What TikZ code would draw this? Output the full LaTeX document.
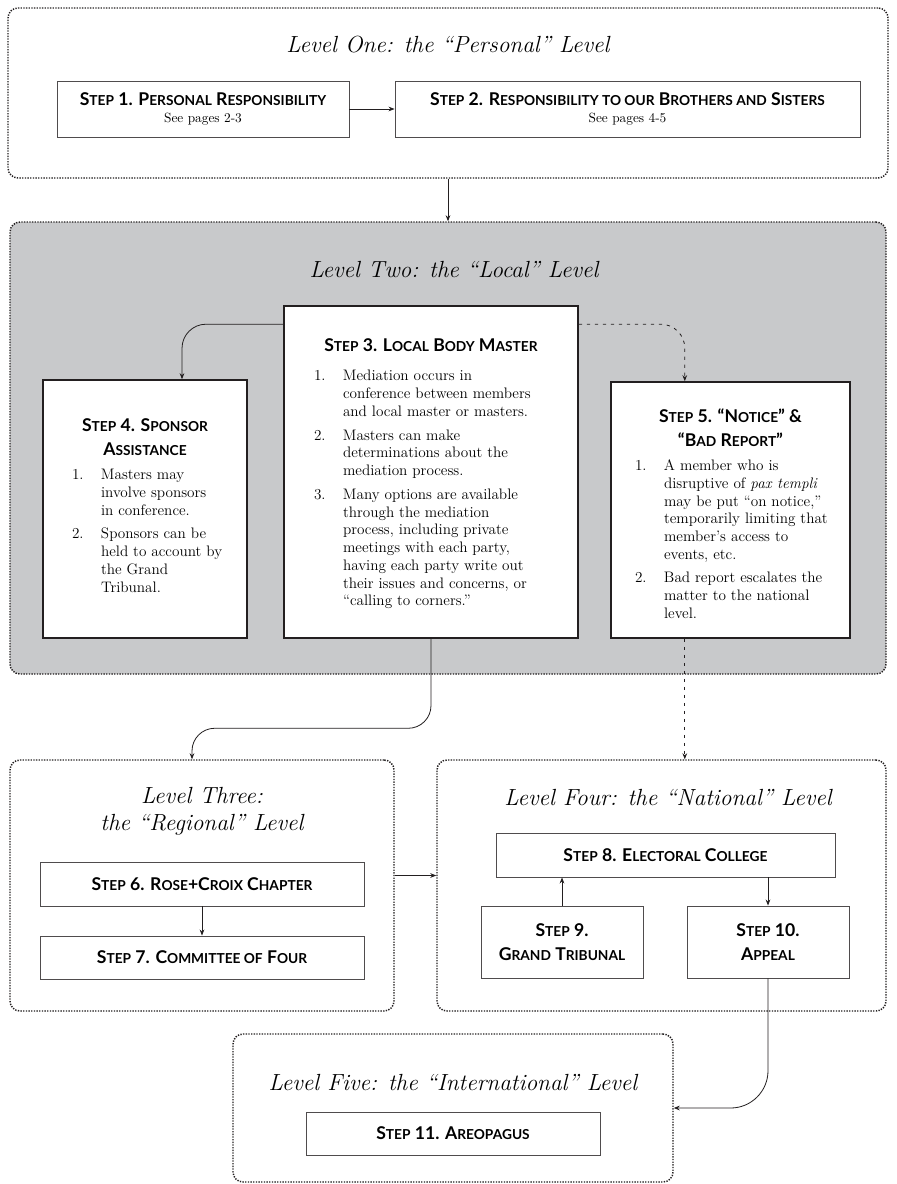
\documentclass[tikz,border=0pt]{standalone}
\usepackage{fontspec}
\usetikzlibrary{arrows.meta,calc}
\newfontfamily\stepfont{Lato}
\definecolor{levelgray}{HTML}{C8C9CB}
\definecolor{ink}{HTML}{231F20}
\newlength\px
\setlength\px{0.75pt}
\newcommand\sm[1]{{\fontsize{10.3pt}{12pt}\selectfont\MakeUppercase{#1}}}
\newcommand\hdfont{\stepfont\bfseries\fontsize{13.2pt}{17.6pt}\selectfont}
\newcommand\seefont{\rmfamily\mdseries\fontsize{10pt}{12pt}\selectfont}
\newcommand\bodyfont{\fontsize{11.4pt}{13.3pt}\selectfont}
\newcommand\hd[1]{{\centering\hdfont #1\par}\vspace{5pt}}
\newcommand\itm[3]{{\raggedright\bodyfont\leftskip=#1\px\noindent\llap{\makebox[29\px][l]{#2}}#3\par}\vspace{4.5pt}}
\newcommand\stepbody[4]{\begin{minipage}[t][#2\px][t]{#1\px}\vspace*{#3\px}#4\end{minipage}}
\tikzset{
	level/.style={draw=ink, line width=1.1pt, dash pattern=on 1pt off 1pt, rounded corners=7.5pt, inner sep=0pt},
	boxsize/.style 2 args={minimum width=#1*0.75pt, minimum height=#2*0.75pt},
	smallstep/.style={draw=ink!80, line width=0.7pt, fill=white, align=center, inner sep=0pt, font=\hdfont},
	bigstep/.style={draw=ink, line width=1.2pt, fill=white, inner sep=0pt},
	title/.style={font=\fontsize{17.5pt}{20.3pt}\selectfont\itshape, align=center},
	link/.style={draw=ink, line width=0.6pt, -{Stealth[length=4.5pt,width=3.5pt]}},
	dashlink/.style={dash pattern=on 2.5pt off 3.5pt},
}
\begin{document}
\begin{tikzpicture}[x=0.75pt, y=-0.75pt]
	\path[use as bounding box, fill=white] (0,0) rectangle (896,1184);

	\node[level, boxsize={880}{170}] (lv1) at (448,93) {};
	\node[level, fill=levelgray, boxsize={876}{452}] (lv2) at (448,448) {};
	\node[level, boxsize={384}{251}] (lv3) at (202,885.5) {};
	\node[level, boxsize={449}{251}] (lv4) at (661.5,885.5) {};
	\node[level, boxsize={440}{148}] (lv5) at (453,1108) {};

	\node[title] (t1) at (448,45) {Level One: the “Personal” Level};
	\node[title] (t2) at (454,270) {Level Two: the “Local” Level};
	\node[title] (t3) at (202,811) {Level Three:\\the “Regional” Level};
	\node[title] (t4) at (668,798) {Level Four: the “National” Level};
	\node[title] (t5) at (453,1083) {Level Five: the “International” Level};

	\node[smallstep, boxsize={292}{56}] (s1) at (203,109) {S\sm{tep} 1. P\sm{ersonal} R\sm{esponsibility}\\[-4.5pt]{\seefont See pages 2-3}};
	\node[smallstep, boxsize={465}{56}] (s2) at (627.5,109) {S\sm{tep} 2. R\sm{esponsibility to our} B\sm{rothers and} S\sm{isters}\\[-4.5pt]{\seefont See pages 4-5}};

	\node[bigstep] (s3) at (431,472) {\stepbody{294}{332}{33}{%
		\hd{S\sm{tep} 3. L\sm{ocal} B\sm{ody} M\sm{aster}}\vspace{3.5pt}
		\itm{59}{1.}{Mediation occurs in\\conference between members\\and local master or masters.}
		\itm{59}{2.}{Masters can make\\determinations about the\\mediation process.}
		\itm{59}{3.}{Many options are available\\through the mediation\\process, including private\\meetings with each party,\\having each party write out\\their issues and concerns, or\\“calling to corners.”}}};
	\node[bigstep] (s4) at (145,509) {\stepbody{204}{258}{39}{%
		\hd{S\sm{tep} 4. S\sm{ponsor}\\A\sm{ssistance}}
		\itm{58}{1.}{Masters may\\involve sponsors\\in conference.}
		\itm{58}{2.}{Sponsors can be\\held to account by\\the Grand\\Tribunal.}}};
	\node[bigstep] (s5) at (730.5,510) {\stepbody{239}{256}{27}{%
		\hd{S\sm{tep} 5. “N\sm{otice}” \&\\“B\sm{ad} R\sm{eport}”}
		\itm{53}{1.}{A member who is\\disruptive of \textit{pax templi}\\may be put “on notice,”\\temporarily limiting that\\member’s access to\\events, etc.}
		\itm{53}{2.}{Bad report escalates the\\matter to the national\\level.}}};

	\node[smallstep, boxsize={324}{44}] (s6) at (202,884) {S\sm{tep} 6. R\sm{ose}+C\sm{roix} C\sm{hapter}};
	\node[smallstep, boxsize={324}{43}] (s7) at (202,957.5) {S\sm{tep} 7. C\sm{ommittee of} F\sm{our}};
	\node[smallstep, boxsize={339}{44}] (s8) at (665.5,855) {S\sm{tep} 8. E\sm{lectoral} C\sm{ollege}};
	\node[smallstep, boxsize={162}{72}] (s9) at (562,942) {S\sm{tep} 9.\\G\sm{rand} T\sm{ribunal}};
	\node[smallstep, boxsize={162}{72}] (s10) at (768,942) {S\sm{tep} 10.\\A\sm{ppeal}};
	\node[smallstep, boxsize={294}{43}] (s11) at (453,1133.5) {S\sm{tep} 11. A\sm{reopagus}};

	\coordinate (d5) at ($(s5.south west)!.31!(s5.south east)$);
	\coordinate (e3) at ($(lv3.east)+(0,-10)$);

	\draw[link] (s1) -- (s2);
	\draw[link] (lv1) -- (lv2);
	\draw[link, rounded corners=18pt] ($(s3.north west)+(0,19)$) -| ($(s4.north west)!.68!(s4.north east)$);
	\draw[link, dashlink, rounded corners=18pt] ($(s3.north east)+(0,19)$) -| ($(s5.north west)!.31!(s5.north east)$);
	\draw[link, rounded corners=17pt] (s3.south) |- ($(lv3.north)+(-10,-31)$) -- ($(lv3.north)+(-10,0)$);
	\draw[link, dashlink] (d5) -- (d5 |- lv4.north);
	\draw[link] (e3) -- (e3 -| lv4.west);
	\draw[link] (s6) -- (s7);
	\draw[link] (s9.north) -- (s9.north |- s8.south);
	\draw[link] (s8.south -| s10.north) -- (s10.north);
	\draw[link, rounded corners=28pt] (s10.south) |- (lv5.east);
\end{tikzpicture}
\end{document}
